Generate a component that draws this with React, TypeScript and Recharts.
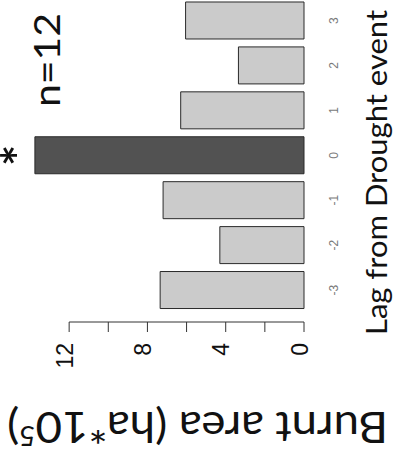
import { BarChart, Bar, XAxis, YAxis, Cell, ReferenceLine, LabelList } from 'recharts'

// burnt area around drought events, by lag (years)
const lags = [-3, -2, -1, 0, 1, 2, 3]
const burntArea = [7.35, 4.3, 7.2, 13.75, 6.3, 3.35, 6.05]
const marks = ['', '', '', '*', '', '', '']
const areaTicks = [0, 2, 4, 6, 8, 10, 12]
const labelledTicks = [0, 4, 8, 12]

const data = lags.map((lag, i) => ({ lag, area: burntArea[i], mark: marks[i] }))

// the figure is laid out landscape and then turned on its side
const CHART_W = 464
const CHART_H = 393
const LAG_DOMAIN: [number, number] = [-3.711, 3.457]

const TITLE_FONT = "Lato, 'Open Sans', sans-serif"
const AXIS_FONT = "'Liberation Sans', Arial, sans-serif"

function AreaTick({ x, y, payload }: any) {
  if (!labelledTicks.includes(payload.value)) return <g />
  return (
    <text x={x} y={y + 3.5} textAnchor="end" fontSize={23} fontFamily={AXIS_FONT} fill="#111">
      {payload.value}
    </text>
  )
}

function StarLabel({ x, y, width, value }: any) {
  if (!value) return <g />
  return (
    <text
      x={x + width / 2}
      y={y + 3}
      textAnchor="middle"
      fontSize={50}
      fontWeight={700}
      fontFamily={TITLE_FONT}
      fill="#111"
    >
      {value}
    </text>
  )
}

export default function App() {
  return (
    <div
      style={{
        position: 'absolute',
        left: 0,
        top: 0,
        width: CHART_H,
        height: CHART_W,
        overflow: 'hidden',
        background: '#fff',
      }}
    >
      <div
        style={{
          position: 'absolute',
          left: 0,
          top: 0,
          width: CHART_W,
          height: CHART_H,
          transformOrigin: '0 0',
          transform: `translate(0px, ${CHART_W}px) rotate(-90deg)`,
        }}
      >
        <BarChart width={CHART_W} height={CHART_H} data={data} margin={{ top: 30, right: 0, bottom: 0, left: 0 }}>
          <XAxis
            type="number"
            dataKey="lag"
            domain={LAG_DOMAIN}
            ticks={lags}
            interval={0}
            allowDataOverflow
            axisLine={false}
            tickLine={false}
            tickSize={0}
            tickMargin={25}
            height={89}
            tick={{ fontSize: 12, fill: '#7a7a7a', fontFamily: AXIS_FONT }}
          />
          <YAxis
            type="number"
            domain={[0, 14]}
            ticks={areaTicks}
            interval={0}
            width={142}
            axisLine={false}
            tickLine={{ stroke: '#333' }}
            tickSize={10}
            tickMargin={11}
            tick={<AreaTick />}
          />
          <ReferenceLine
            segment={[
              { x: LAG_DOMAIN[0], y: 0 },
              { x: LAG_DOMAIN[0], y: 12 },
            ]}
            stroke="#333"
            strokeWidth={1}
          />
          <Bar dataKey="area" barSize={37} stroke="#2a2a2a" strokeWidth={1} isAnimationActive={false}>
            {data.map((d) => (
              <Cell key={d.lag} fill={d.lag === 0 ? '#525252' : '#cbcbcb'} />
            ))}
            <LabelList dataKey="mark" content={<StarLabel />} />
          </Bar>
          <text
            x={52}
            y={197.5}
            transform="rotate(-90 52 197.5)"
            textAnchor="middle"
            fontSize={42}
            fontFamily={TITLE_FONT}
            fill="#111"
            textLength={381}
            lengthAdjust="spacingAndGlyphs"
          >
            Burnt area (ha*10
            <tspan dy={-14} fontSize={26}>
              5
            </tspan>
            <tspan dy={14}>)</tspan>
          </text>
          <text
            x={291.5}
            y={387}
            textAnchor="middle"
            fontSize={29}
            fontFamily={TITLE_FONT}
            fill="#111"
            textLength={325}
            lengthAdjust="spacingAndGlyphs"
          >
            Lag from Drought event
          </text>
          <text
            x={404}
            y={60}
            textAnchor="middle"
            fontSize={37}
            fontFamily={TITLE_FONT}
            fill="#111"
            textLength={94}
            lengthAdjust="spacingAndGlyphs"
          >
            n=12
          </text>
        </BarChart>
      </div>
    </div>
  )
}
